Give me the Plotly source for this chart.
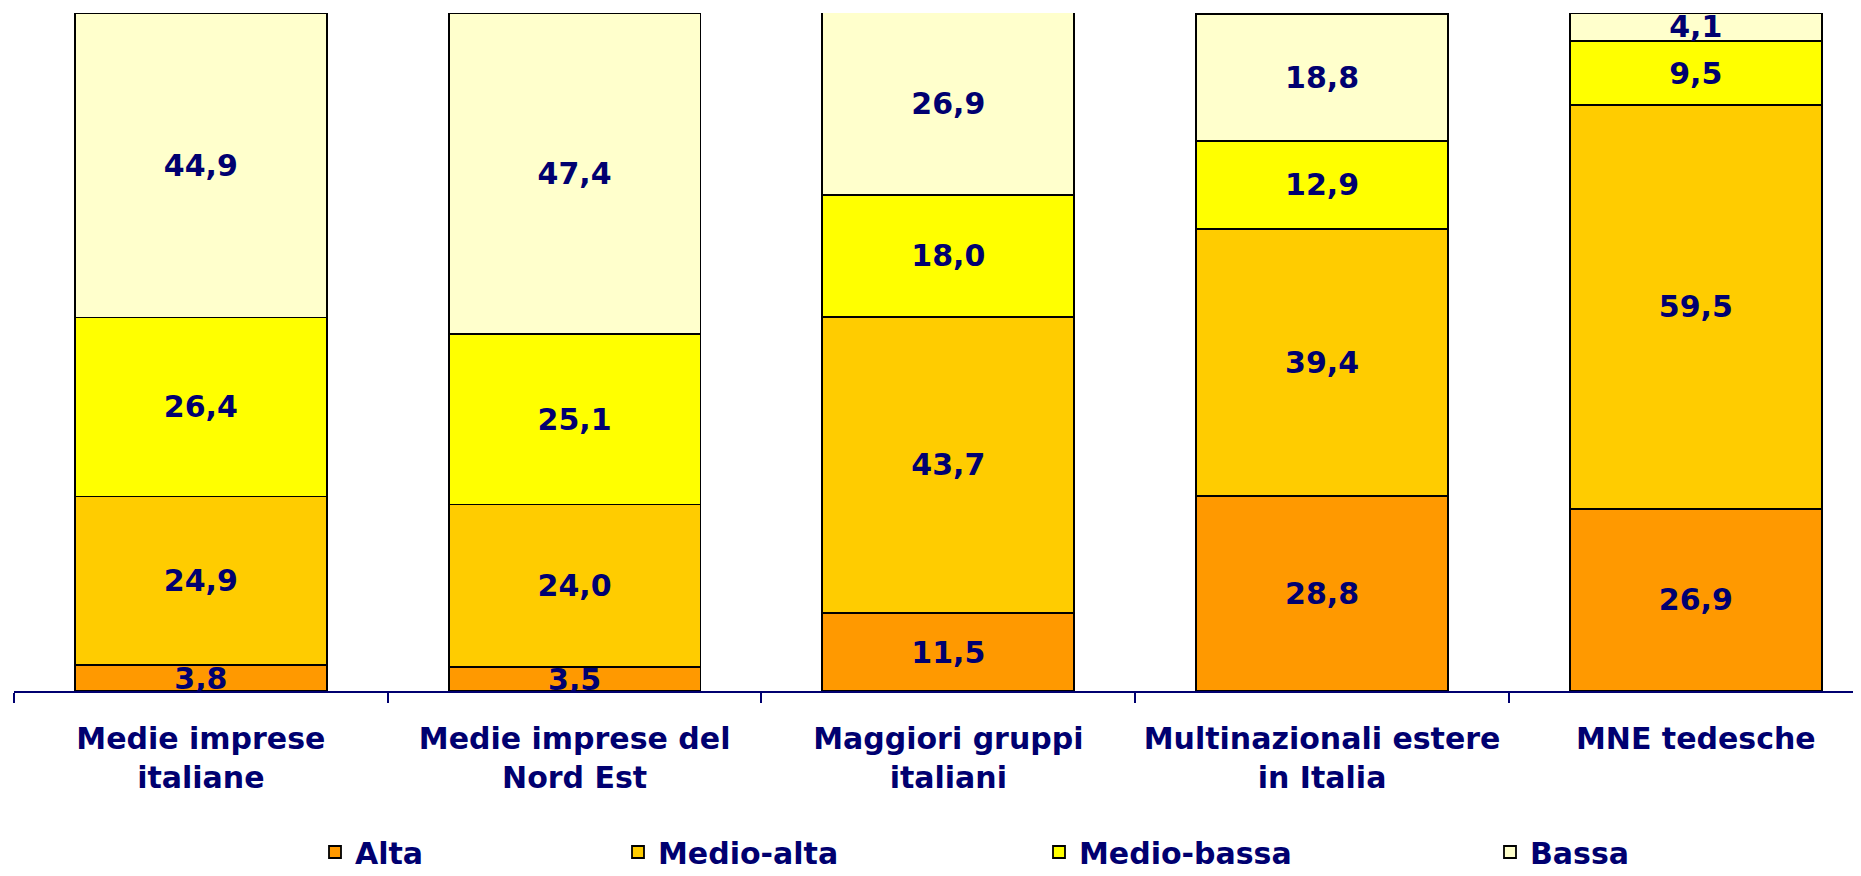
import plotly.graph_objects as go

# categories (x axis)
categorie = ["Medie imprese<br>italiane", "Medie imprese del<br>Nord Est",
             "Maggiori gruppi<br>italiani", "Multinazionali estere<br>in Italia",
             "MNE tedesche"]

# shares by technology intensity (%)
alta = [3.8, 3.5, 11.5, 28.8, 26.9]
medio_alta = [24.9, 24.0, 43.7, 39.4, 59.5]
medio_bassa = [26.4, 25.1, 18.0, 12.9, 9.5]
bassa = [44.9, 47.4, 26.9, 18.8, 4.1]

serie = [
    ("Alta", alta, "#FF9900", "legend"),
    ("Medio-alta", medio_alta, "#FFCC00", "legend2"),
    ("Medio-bassa", medio_bassa, "#FFFF00", "legend3"),
    ("Bassa", bassa, "#FFFFCC", "legend4"),
]

NAVY = "#000070"
FONT = "DejaVu Sans"

fig = go.Figure()
for nome, valori, colore, leg in serie:
    fig.add_trace(go.Bar(
        x=categorie, y=valori, name=nome, legend=leg,
        marker=dict(color=colore, line=dict(color="black", width=1.8)),
        text=[("%.1f" % v).replace(".", ",") for v in valori],
        textposition="inside", insidetextanchor="middle", textangle=0,
        constraintext="none",
        textfont=dict(family=FONT, size=30, color=NAVY, weight="bold"),
    ))

# the page body adds an 8px margin, so the figure is 8px smaller than the window
W, H = 1853, 868
ml, mr, mt, mb = 6, 0, 5, 185

leg_style = dict(orientation="h", yref="container", xref="container",
                 y=24 / H, yanchor="middle", xanchor="left",
                 font=dict(family=FONT, size=30, color=NAVY, weight="bold"),
                 bgcolor="rgba(0,0,0,0)", borderwidth=0)

fig.update_layout(
    width=W, height=H,
    margin=dict(l=ml, r=mr, t=mt, b=mb, autoexpand=False),
    barmode="stack", bargap=0.326,
    plot_bgcolor="white", paper_bgcolor="white",
    uniformtext=dict(minsize=30, mode="show"),
    showlegend=True,
    legend=dict(x=307 / W, **leg_style),
    legend2=dict(x=610 / W, **leg_style),
    legend3=dict(x=1031 / W, **leg_style),
    legend4=dict(x=1482 / W, **leg_style),
)
fig.update_xaxes(
    range=[-0.5, 4.442], showline=True, linecolor=NAVY, linewidth=2,
    ticks="outside", tickson="boundaries", ticklen=10, tickwidth=1.5, tickcolor=NAVY,
    tickfont=dict(family=FONT, size=30, color=NAVY, weight="bold"),
    ticklabelstandoff=20, automargin=False, showgrid=False,
)
fig.update_yaxes(range=[0, 100], visible=False, showgrid=False)

fig.write_html("out.html")
